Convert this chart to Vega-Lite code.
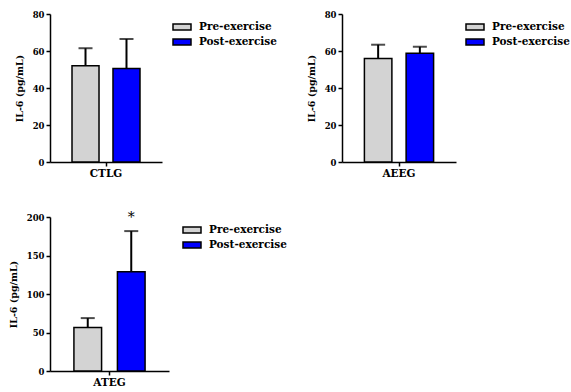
{
  "$schema": "https://vega.github.io/schema/vega-lite/v6.json",
  "padding": {"left": 8, "top": 10, "right": 0, "bottom": 0},
  "background": "white",
  "datasets": {
    "ctlg": [
      {"group": "CTLG", "cond": "Pre-exercise", "mean": 52, "upper": 61.5, "sig": ""},
      {"group": "CTLG", "cond": "Post-exercise", "mean": 50.6, "upper": 66.5, "sig": ""}
    ],
    "aeeg": [
      {"group": "AEEG", "cond": "Pre-exercise", "mean": 56, "upper": 63.4, "sig": ""},
      {"group": "AEEG", "cond": "Post-exercise", "mean": 58.8, "upper": 62.3, "sig": ""}
    ],
    "ateg": [
      {"group": "ATEG", "cond": "Pre-exercise", "mean": 56.6, "upper": 68.7, "sig": ""},
      {"group": "ATEG", "cond": "Post-exercise", "mean": 129, "upper": 181.7, "sig": "*"}
    ]
  },
  "config": {
    "view": {"stroke": null},
    "font": "DejaVu Serif",
    "axis": {
      "domainColor": "black", "domainWidth": 1.5, "tickColor": "black", "tickWidth": 1.5, "tickSize": 4,
      "labelColor": "black", "labelFont": "DejaVu Serif", "labelFontWeight": "bold", "labelFontSize": 8.5,
      "titleColor": "black", "titleFont": "DejaVu Serif", "titleFontWeight": "bold", "titleFontSize": 9.5,
      "grid": false, "labelOverlap": false
    },
    "legend": {
      "orient": "none", "title": null,
      "symbolType": "M-1.5,-0.5H1.5V0.5H-1.5Z", "symbolSize": 144,
      "symbolStrokeColor": "black", "symbolStrokeWidth": 1.5,
      "labelFont": "DejaVu Serif", "labelFontWeight": "bold", "labelFontSize": 10.5, "labelColor": "black",
      "labelOffset": 10, "rowPadding": 2, "padding": 0
    }
  },
  "bounds": "flush",
  "align": "none",
  "columns": 2,
  "spacing": {"row": 55, "column": 173},
  "resolve": {"scale": {"fill": "independent", "y": "independent", "x": "independent", "xOffset": "independent"}, "legend": {"fill": "independent"}},
  "concat": [
    {
      "width": 112, "height": 148,
      "data": {"name": "ctlg"},
      "encoding": {
        "x": {"field": "group", "type": "nominal", "scale": {"paddingInner": 0, "paddingOuter": 0}, "axis": {"title": null, "labelAngle": 0, "labelFontSize": 10.5, "labelPadding": 2}},
        "xOffset": {"field": "cond", "type": "nominal", "sort": ["Pre-exercise", "Post-exercise"], "scale": {"paddingInner": 0.341, "paddingOuter": 0.537}}
      },
      "layer": [
        {
          "mark": {"type": "bar", "stroke": "black", "strokeWidth": 1.5},
          "encoding": {
            "y": {"field": "mean", "type": "quantitative", "scale": {"domain": [0, 80]}, "axis": {"values": [0, 20, 40, 60, 80], "title": "IL-6 (pg/mL)", "labelPadding": 2, "titlePadding": 8}},
            "fill": {"field": "cond", "type": "nominal", "scale": {"domain": ["Pre-exercise", "Post-exercise"], "range": ["#d3d3d3", "#0000ff"]}, "legend": {"legendX": 125, "legendY": 6}}
          }
        },
        {
          "mark": {"type": "rule", "strokeWidth": 2, "color": "black"},
          "encoding": {"y": {"field": "mean", "type": "quantitative", "axis": {"values": [0, 20, 40, 60, 80], "title": "IL-6 (pg/mL)", "labelPadding": 2, "titlePadding": 8}}, "y2": {"field": "upper"}}
        },
        {
          "mark": {"type": "tick", "orient": "horizontal", "size": 14, "thickness": 2, "color": "black"},
          "encoding": {"y": {"field": "upper", "type": "quantitative", "axis": {"values": [0, 20, 40, 60, 80], "title": "IL-6 (pg/mL)", "labelPadding": 2, "titlePadding": 8}}}
        }
      ]
    },
    {
      "width": 114, "height": 148,
      "data": {"name": "aeeg"},
      "encoding": {
        "x": {"field": "group", "type": "nominal", "scale": {"paddingInner": 0, "paddingOuter": 0}, "axis": {"title": null, "labelAngle": 0, "labelFontSize": 10.5, "labelPadding": 2}},
        "xOffset": {"field": "cond", "type": "nominal", "sort": ["Pre-exercise", "Post-exercise"], "scale": {"paddingInner": 0.341, "paddingOuter": 0.537}}
      },
      "layer": [
        {
          "mark": {"type": "bar", "stroke": "black", "strokeWidth": 1.5},
          "encoding": {
            "y": {"field": "mean", "type": "quantitative", "scale": {"domain": [0, 80]}, "axis": {"values": [0, 20, 40, 60, 80], "title": "IL-6 (pg/mL)", "labelPadding": 2, "titlePadding": 8}},
            "fill": {"field": "cond", "type": "nominal", "scale": {"domain": ["Pre-exercise", "Post-exercise"], "range": ["#d3d3d3", "#0000ff"]}, "legend": {"legendX": 126, "legendY": 6}}
          }
        },
        {
          "mark": {"type": "rule", "strokeWidth": 2, "color": "black"},
          "encoding": {"y": {"field": "mean", "type": "quantitative", "axis": {"values": [0, 20, 40, 60, 80], "title": "IL-6 (pg/mL)", "labelPadding": 2, "titlePadding": 8}}, "y2": {"field": "upper"}}
        },
        {
          "mark": {"type": "tick", "orient": "horizontal", "size": 14, "thickness": 2, "color": "black"},
          "encoding": {"y": {"field": "upper", "type": "quantitative", "axis": {"values": [0, 20, 40, 60, 80], "title": "IL-6 (pg/mL)", "labelPadding": 2, "titlePadding": 8}}}
        }
      ]
    },
    {
      "width": 119, "height": 154,
      "data": {"name": "ateg"},
      "encoding": {
        "x": {"field": "group", "type": "nominal", "scale": {"paddingInner": 0, "paddingOuter": 0}, "axis": {"title": null, "labelAngle": 0, "labelFontSize": 10.5, "labelPadding": 2}},
        "xOffset": {"field": "cond", "type": "nominal", "sort": ["Pre-exercise", "Post-exercise"], "scale": {"paddingInner": 0.364, "paddingOuter": 0.55}}
      },
      "layer": [
        {
          "mark": {"type": "bar", "stroke": "black", "strokeWidth": 1.5},
          "encoding": {
            "y": {"field": "mean", "type": "quantitative", "scale": {"domain": [0, 200]}, "axis": {"values": [0, 50, 100, 150, 200], "title": "IL-6 (pg/mL)", "labelPadding": 2, "titlePadding": 8}},
            "fill": {"field": "cond", "type": "nominal", "scale": {"domain": ["Pre-exercise", "Post-exercise"], "range": ["#d3d3d3", "#0000ff"]}, "legend": {"legendX": 135, "legendY": 6}}
          }
        },
        {
          "mark": {"type": "rule", "strokeWidth": 2, "color": "black"},
          "encoding": {"y": {"field": "mean", "type": "quantitative", "axis": {"values": [0, 50, 100, 150, 200], "title": "IL-6 (pg/mL)", "labelPadding": 2, "titlePadding": 8}}, "y2": {"field": "upper"}}
        },
        {
          "mark": {"type": "tick", "orient": "horizontal", "size": 14, "thickness": 2, "color": "black"},
          "encoding": {"y": {"field": "upper", "type": "quantitative", "axis": {"values": [0, 50, 100, 150, 200], "title": "IL-6 (pg/mL)", "labelPadding": 2, "titlePadding": 8}}}
        },
        {
          "transform": [{"filter": "datum.sig != ''"}],
          "mark": {"type": "text", "baseline": "alphabetic", "dy": -9, "fontSize": 14, "font": "DejaVu Serif", "color": "black"},
          "encoding": {"y": {"field": "upper", "type": "quantitative", "axis": {"values": [0, 50, 100, 150, 200], "title": "IL-6 (pg/mL)", "labelPadding": 2, "titlePadding": 8}}, "text": {"field": "sig"}}
        }
      ]
    }
  ]
}
